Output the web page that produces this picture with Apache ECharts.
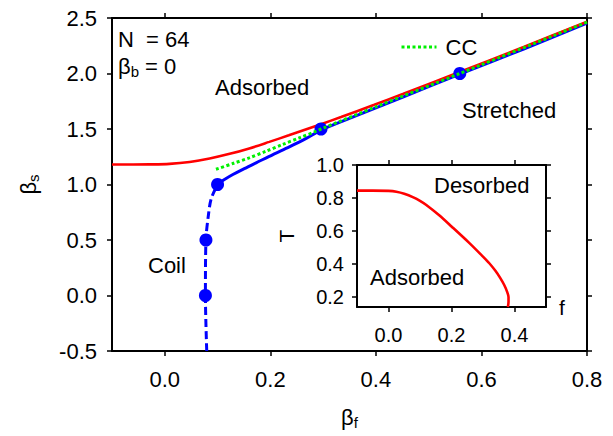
<!DOCTYPE html>
<html><head><meta charset="utf-8">
<script src="https://cdn.jsdelivr.net/npm/echarts@6/dist/echarts.min.js"></script>
<style>html,body{margin:0;padding:0;background:#fff}#c{width:613px;height:436px}</style>
</head><body><div id="c"></div>
<script>
// ---- data ----
const mainXTicks = [0, 0.2, 0.4, 0.6, 0.8];
const insetXTicks = [0, 0.2, 0.4];
const insetYTicks = [0.2, 0.4, 0.6, 0.8, 1.0];

// red: adsorption transition line (beta_f, beta_s)
const adsorptionLine = [[-0.1,1.18],[-0.06,1.18],[-0.029,1.181],[0.009,1.186],[0.047,1.203],[0.085,1.234],[0.123,1.276],[0.16,1.325],[0.198,1.384],[0.235,1.443],[0.271,1.502],[0.296,1.543],[0.334,1.608],[0.397,1.718],[0.451,1.815],[0.56,2.015],[0.68,2.239],[0.8,2.466]];
// blue solid: coil-stretch line
const stretchLine = [[0.1,1.0],[0.105,1.02],[0.113,1.045],[0.129,1.09],[0.148,1.137],[0.173,1.195],[0.205,1.27],[0.236,1.339],[0.268,1.415],[0.296,1.49],[0.35,1.595],[0.45,1.785],[0.559,1.995],[0.68,2.22],[0.8,2.455]];
// blue dashed: coil boundary
const coilLine = [[0.0795,-0.5],[0.077,0.0],[0.078,0.5],[0.083,0.737],[0.088,0.873],[0.1,1.0]];
// blue dots: simulation points
const transitionPoints = [[0.077,0.0],[0.078,0.5],[0.1,1.0],[0.296,1.5],[0.559,2.0]];
// green dotted: CC
const ccLine = [[0.097,1.137],[0.129,1.189],[0.16,1.24],[0.192,1.30],[0.223,1.36],[0.255,1.42],[0.287,1.48],[0.296,1.5],[0.4,1.7],[0.559,2.0],[0.8,2.462]];
// inset red: T vs f
const insetLine = [[-0.1,0.845],[-0.05,0.845],[0,0.843],[0.025,0.838],[0.05,0.826],[0.079,0.804],[0.1,0.783],[0.12,0.758],[0.16,0.697],[0.2,0.628],[0.257,0.527],[0.299,0.447],[0.32,0.405],[0.34,0.358],[0.355,0.315],[0.367,0.275],[0.376,0.235],[0.381,0.2],[0.381,0.17],[0.379,0.14]];

// ---- chart ----
const FONT = 'Liberation Sans, Arial, sans-serif';
const BLACK = '#000';
const BLUE = '#0000ff', RED = '#ff0000', GREEN = '#00f000';
const chart = echarts.init(document.getElementById('c'), null, {renderer: 'svg'});

function ax(extra) {
  return Object.assign({
    type: 'value',
    axisLine: {show: true, onZero: false, lineStyle: {color: BLACK, width: 2}},
    axisTick: {show: true, inside: false, length: 5, lineStyle: {color: BLACK, width: 1.5}},
    splitLine: {show: false},
    axisLabel: {color: BLACK, fontFamily: FONT, fontSize: 22, formatter: v => v.toFixed(1)}
  }, extra);
}
const richSub = {
  b: {fontFamily: FONT, fontSize: 22, color: BLACK, lineHeight: 24, verticalAlign: 'top'},
  s: {fontFamily: FONT, fontSize: 15, color: BLACK, lineHeight: 15, padding: [14, 0, 0, 0], verticalAlign: 'bottom'}
};

chart.setOption({
  backgroundColor: '#fff',
  animation: false,
  grid: [
    {left: 112, top: 18, width: 475, height: 333},
    {left: 357, top: 165, width: 189, height: 142}
  ],
  legend: {
    left: 400, top: 36, padding: 0,
    itemWidth: 35, itemHeight: 14, itemGap: 0,
    data: ['CC'],
    itemStyle: {opacity: 0},
    lineStyle: {width: 3, type: [3, 2.5], color: GREEN},
    textStyle: {fontFamily: FONT, fontSize: 22, color: BLACK, padding: [0, 0, 0, 4]}
  },
  xAxis: [
    ax({gridIndex: 0, position: 'bottom', min: -0.1, max: 0.8,
        axisTick: {show: true, length: 5, customValues: mainXTicks, lineStyle: {color: BLACK, width: 1.5}},
        axisLabel: {color: BLACK, fontFamily: FONT, fontSize: 22, margin: 17, customValues: mainXTicks, formatter: v => v.toFixed(1)},
        name: '{b|β}{s|f}', nameLocation: 'middle', nameGap: 55,
        nameTextStyle: {rich: richSub}}),
    ax({gridIndex: 0, position: 'top', min: -0.1, max: 0.8,
        axisTick: {show: true, length: 5, customValues: mainXTicks, lineStyle: {color: BLACK, width: 1.5}},
        axisLabel: {show: false}}),
    ax({gridIndex: 1, position: 'bottom', min: -0.1, max: 0.5,
        axisTick: {show: true, length: 5, customValues: insetXTicks, lineStyle: {color: BLACK, width: 1.5}},
        axisLabel: {color: BLACK, fontFamily: FONT, fontSize: 20, margin: 18, customValues: insetXTicks, formatter: v => v.toFixed(1)},
        name: 'f', nameLocation: 'end', nameGap: 13,
        nameTextStyle: {fontFamily: FONT, fontSize: 21, color: BLACK, padding: [16, 0, 0, 0]}}),
    ax({gridIndex: 1, position: 'top', min: -0.1, max: 0.5,
        axisTick: {show: true, length: 5, customValues: insetXTicks, lineStyle: {color: BLACK, width: 1.5}},
        axisLabel: {show: false}})
  ],
  yAxis: [
    ax({gridIndex: 0, position: 'left', min: -0.5, max: 2.5, interval: 0.5,
        axisLabel: {color: BLACK, fontFamily: FONT, fontSize: 22, margin: 15, formatter: v => v.toFixed(1)},
        name: '{b|β}{s|s}', nameLocation: 'middle', nameGap: 71,
        nameTextStyle: {rich: richSub}}),
    ax({gridIndex: 0, position: 'right', min: -0.5, max: 2.5, interval: 0.5, axisLabel: {show: false}}),
    ax({gridIndex: 1, position: 'left', min: 0.14, max: 1.0,
        axisTick: {show: true, length: 5, customValues: insetYTicks, lineStyle: {color: BLACK, width: 1.5}},
        axisLabel: {color: BLACK, fontFamily: FONT, fontSize: 20, margin: 13, customValues: insetYTicks, formatter: v => v.toFixed(1)},
        name: 'T', nameLocation: 'middle', nameGap: 60,
        nameTextStyle: {fontFamily: FONT, fontSize: 21, color: BLACK}}),
    ax({gridIndex: 1, position: 'right', min: 0.14, max: 1.0,
        axisTick: {show: true, length: 5, customValues: insetYTicks, lineStyle: {color: BLACK, width: 1.5}},
        axisLabel: {show: false}})
  ],
  series: [
    {type: 'line', name: 'stretch', xAxisIndex: 0, yAxisIndex: 0, data: stretchLine, smooth: 0.3,
     symbol: 'none', lineStyle: {color: BLUE, width: 3}, z: 2},
    {type: 'line', name: 'coil', xAxisIndex: 0, yAxisIndex: 0, data: coilLine, smooth: 0.3,
     symbol: 'none', lineStyle: {color: BLUE, width: 3, type: [8, 4]}, z: 2},
    {type: 'line', name: 'adsorption', xAxisIndex: 0, yAxisIndex: 0, data: adsorptionLine, smooth: 0.3,
     symbol: 'none', lineStyle: {color: RED, width: 2.6}, z: 3},
    {type: 'scatter', name: 'points', xAxisIndex: 0, yAxisIndex: 0, data: transitionPoints,
     symbol: 'circle', symbolSize: 13, itemStyle: {color: BLUE, opacity: 1}, z: 4},
    {type: 'line', name: 'CC', xAxisIndex: 0, yAxisIndex: 0, data: ccLine, smooth: 0.3,
     symbol: 'none', itemStyle: {color: GREEN}, lineStyle: {color: GREEN, width: 3, type: [3, 2.5]}, z: 5},
    {type: 'line', name: 'inset', xAxisIndex: 2, yAxisIndex: 2, data: insetLine, smooth: 0.3,
     symbol: 'none', lineStyle: {color: RED, width: 2.6}, z: 3}
  ],
  graphic: [
    {type: 'text', x: 118, y: 39, style: {text: 'N  = 64', fontFamily: FONT, fontSize: 22, fill: BLACK, verticalAlign: 'middle'}},
    {type: 'text', x: 118, y: 55, style: {text: '{b|β}{s|b}{b| = 0}', rich: richSub, fill: BLACK}},
    {type: 'text', x: 215, y: 87, style: {text: 'Adsorbed', fontFamily: FONT, fontSize: 22, fill: BLACK, verticalAlign: 'middle'}},
    {type: 'text', x: 462, y: 110, style: {text: 'Stretched', fontFamily: FONT, fontSize: 22, fill: BLACK, verticalAlign: 'middle'}},
    {type: 'text', x: 148, y: 265, style: {text: 'Coil', fontFamily: FONT, fontSize: 22, fill: BLACK, verticalAlign: 'middle'}},
    {type: 'text', x: 434, y: 185, z: 10, style: {text: 'Desorbed', fontFamily: FONT, fontSize: 22, fill: BLACK, verticalAlign: 'middle'}},
    {type: 'text', x: 370, y: 277, z: 10, style: {text: 'Adsorbed', fontFamily: FONT, fontSize: 22, fill: BLACK, verticalAlign: 'middle'}}
  ]
});
</script></body></html>
